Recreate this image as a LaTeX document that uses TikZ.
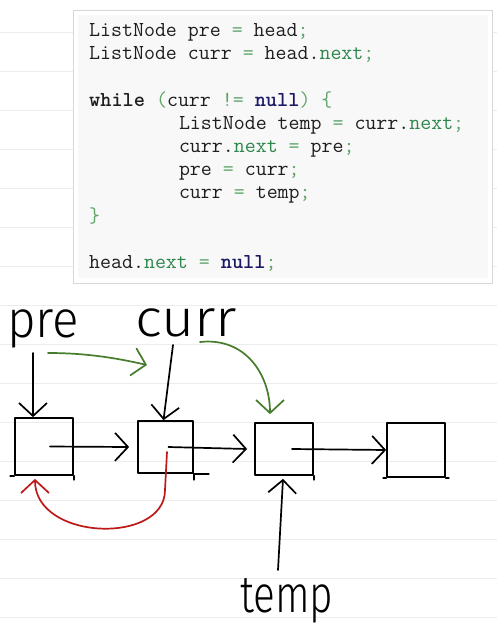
\documentclass[tikz,border=0pt]{standalone}
\usepackage{fontspec}
\usepackage{graphicx}
\newfontfamily\handfont{Fira Sans Light}
\usetikzlibrary{arrows.meta}
\definecolor{codetext}{RGB}{30,30,30}
\definecolor{codegreen}{RGB}{45,135,75}
\definecolor{codepunc}{RGB}{95,165,105}
\definecolor{codenavy}{RGB}{25,25,100}
\definecolor{nbline}{RGB}{236,236,236}
\definecolor{boxborder}{RGB}{215,215,215}
\definecolor{boxfill}{RGB}{248,248,249}
\definecolor{hgreen}{RGB}{70,125,45}
\definecolor{hred}{RGB}{190,25,25}
\newcommand\codep[1]{\textcolor{codepunc}{#1}}
\newcommand\coden[1]{\textcolor{codegreen}{#1}}
\newcommand\codenull[1]{\textcolor{codenavy}{\bfseries #1}}
\begin{document}
\begin{tikzpicture}[x=1pt,y=-1pt,
  codeline/.style={anchor=base west,inner sep=0pt,text=codetext,
    font=\ttfamily\fontsize{21.3}{24}\selectfont\addfontfeatures{FakeBold=0.7}},
  handlabel/.style={anchor=base west,inner sep=0pt,
    font=\handfont\fontsize{52}{56}\selectfont},
  stroke/.style={line width=1.7pt,line cap=round,line join=round},
  listbox/.style={stroke,draw,inner sep=0pt},
  arr/.style={stroke,-{Straight Barb[length=13pt,width=28pt,line width=1.7pt]}}]
% page and notebook lines
\fill[white] (0,0) rectangle (497,641);
\useasboundingbox (0,0) rectangle (497,641);
\foreach \k in {0,...,15}
  \draw[nbline,line width=0.8pt] (0,{32+39*\k}) -- (497,{32+39*\k});
% code panel
\draw[boxborder,fill=white,line width=0.8pt] (73,10) rectangle (492,283);
\fill[boxfill] (78,15) rectangle (488,278);
\node[codeline] (c1) at (89,36.5) {ListNode pre \codep{=} head\codep{;}};
\node[codeline] (c2) at (89,59.7) {ListNode curr \codep{=} head.\coden{next}\codep{;}};
\node[codeline] (c3) at (89,106.1) {\textbf{while} \codep{(}curr \codep{!=} \codenull{null}\codep{)} \codep{\{}};
\node[codeline] (c4) at (178.8,129.3) {ListNode temp \codep{=} curr.\coden{next}\codep{;}};
\node[codeline] (c5) at (178.8,152.5) {curr.\coden{next} \codep{=} pre\codep{;}};
\node[codeline] (c6) at (178.8,175.7) {pre \codep{=} curr\codep{;}};
\node[codeline] (c7) at (178.8,198.9) {curr \codep{=} temp\codep{;}};
\node[codeline] (c8) at (89,222.1) {\codep{\}}};
\node[codeline] (c9) at (89,268.5) {head.\coden{next} \codep{=} \codenull{null}\codep{;}};
% handwritten labels
\node[handlabel] (pre) at (7,337) {\scalebox{0.95}[1]{pre}};
\node[handlabel] (curr) at (135,336) {\scalebox{1.1}[1]{curr}};
\node[handlabel] (temp) at (240,612) {\scalebox{0.78}[1]{temp}};
% list boxes
\node[listbox,minimum width=58pt,minimum height=57pt] (b1) at (44,446.5) {};
\node[listbox,minimum width=55pt,minimum height=52pt] (b2) at (165.5,447) {};
\node[listbox,minimum width=58pt,minimum height=52pt] (b3) at (284,449) {};
\node[listbox,minimum width=58pt,minimum height=54pt] (b4) at (416,450) {};
% hand-drawn overshoots
\draw[stroke] (b1.south west) -- ++(-4,0);
\draw[stroke] (b1.south east) -- ++(0,4);
\draw[stroke] (b2.south east) -- ++(15,0);
\draw[stroke] (b2.south east) -- ++(0,6);
\draw[stroke] (b3.south east) -- ++(0,4);
\draw[stroke] (b4.south west) -- ++(-3,0);
\draw[stroke] (b4.south east) -- ++(3,0);
% next pointers
\draw[arr] ([xshift=6pt]b1.center) -- ([xshift=-8pt]b2.west);
\draw[arr] ([xshift=3pt]b2.center) -- ([xshift=-7pt]b3.west);
\draw[arr] ([xshift=8pt]b3.center) -- (b4.west);
% label pointers
\draw[arr] ([xshift=26pt,yshift=-16pt]pre.base west) -- ([xshift=-11pt]b1.north);
\draw[arr] ([xshift=38pt,yshift=-9pt]curr.base west) -- ([xshift=-2pt]b2.north);
\draw[arr] ([xshift=38pt,yshift=42pt]temp.base west) -- ([xshift=-1pt,yshift=-3pt]b3.south);
% green moves
\draw[arr,hgreen] ([xshift=41pt,yshift=-16pt]pre.base west)
  .. controls +(35,0) and +(-35,-8) .. ([xshift=12pt,yshift=-29pt]curr.base west);
\draw[arr,hgreen] ([xshift=65pt,yshift=-6pt]curr.base west)
  .. controls +(45,-5) and +(0,-40) .. ([xshift=-14pt,yshift=8pt]b3.north);
% red reversed pointer
\draw[arr,hred] ([xshift=1.5pt,yshift=-5pt]b2.center) -- ++(-2,38)
  .. controls +(0,55) and +(0,62) .. ([xshift=-9pt,yshift=-3pt]b1.south);
\end{tikzpicture}
\end{document}
